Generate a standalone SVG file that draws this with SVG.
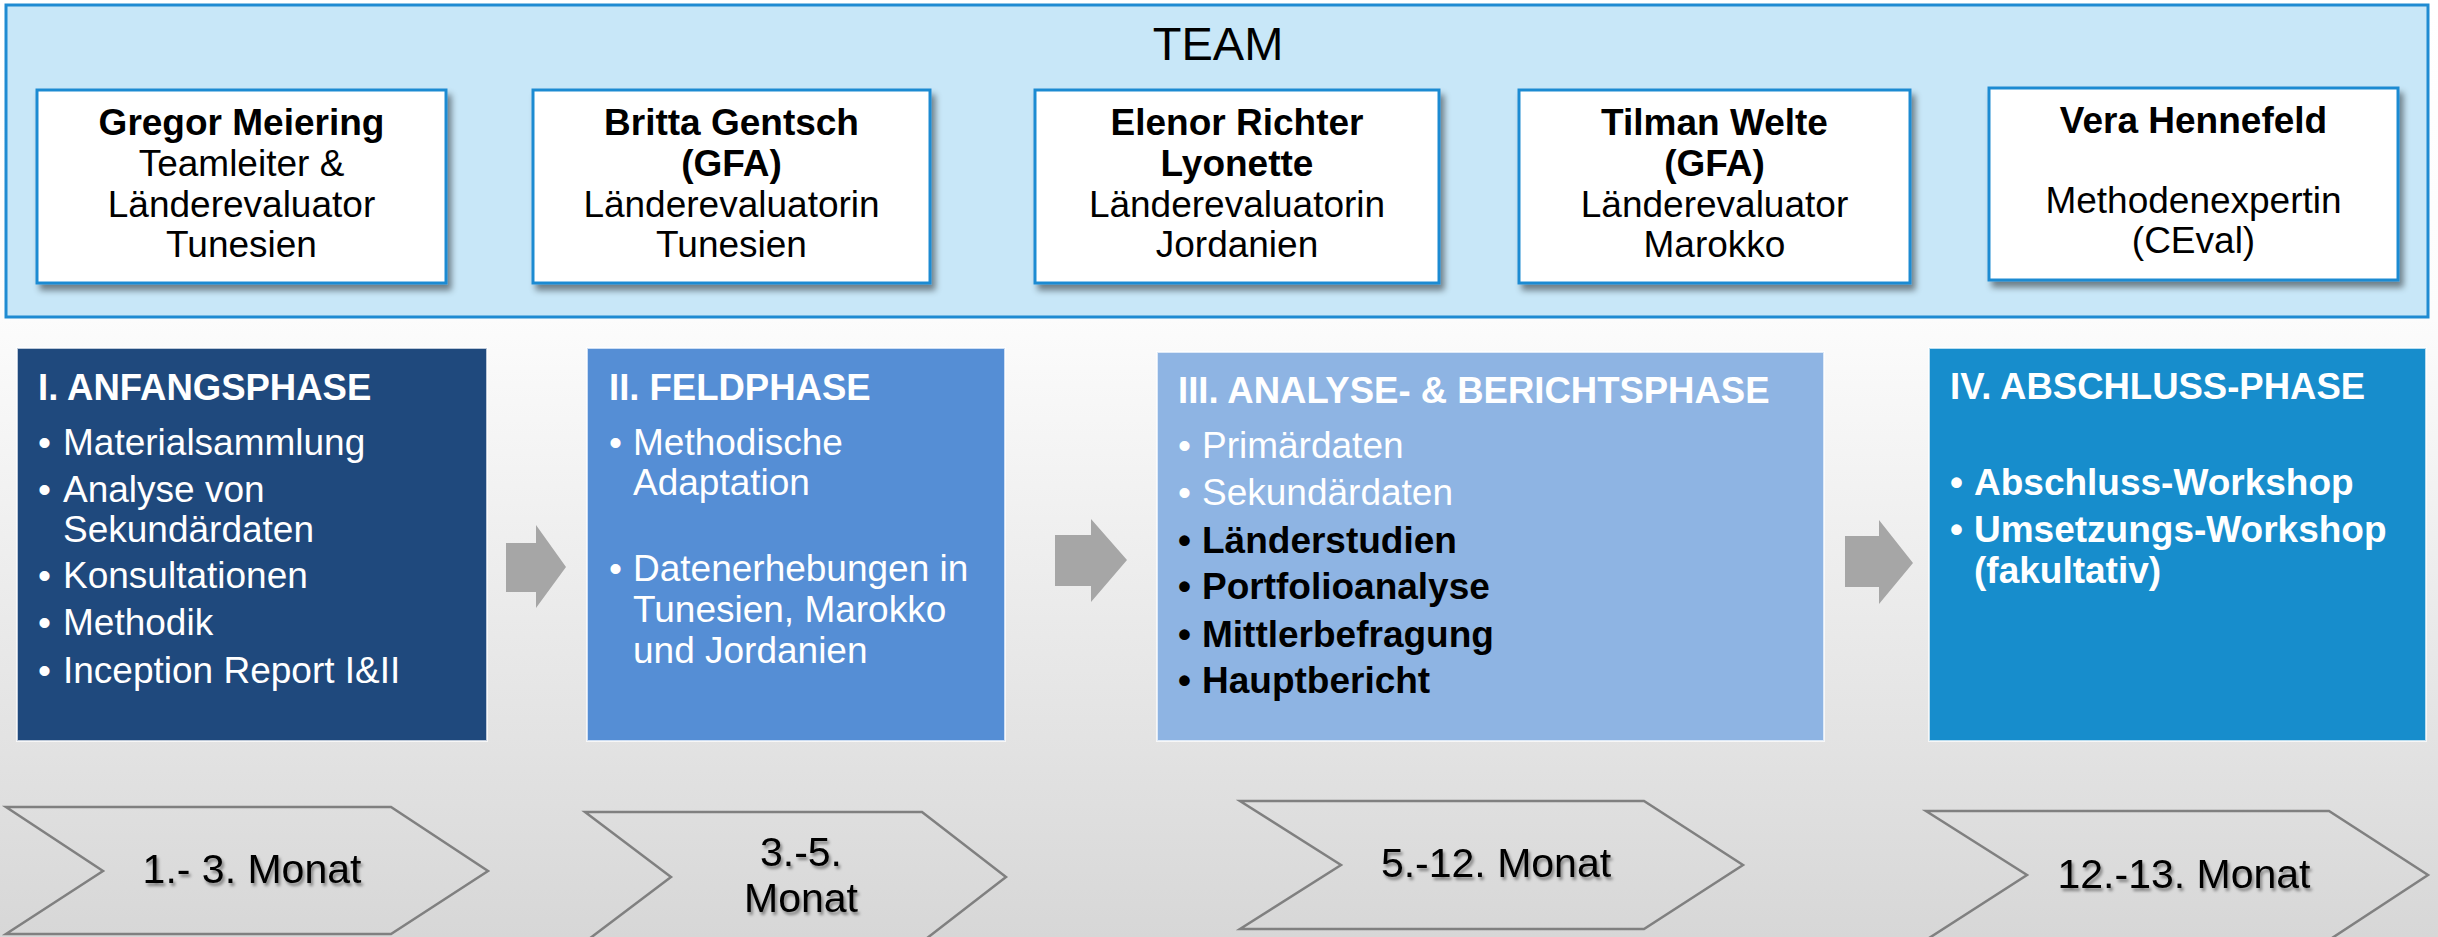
<svg xmlns="http://www.w3.org/2000/svg" width="2438" height="937" viewBox="0 0 2438 937">
<defs>
<linearGradient id="bg" x1="0" y1="0" x2="0" y2="937" gradientUnits="userSpaceOnUse">
<stop offset="0" stop-color="#ffffff"/>
<stop offset="0.34" stop-color="#fcfcfc"/>
<stop offset="1" stop-color="#d7d7d7"/>
</linearGradient>
<filter id="sh" x="-10%" y="-10%" width="125%" height="130%">
<feDropShadow dx="4" dy="6" stdDeviation="3" flood-color="#000" flood-opacity="0.45"/>
</filter>
<filter id="tsh" x="-10%" y="-20%" width="130%" height="150%">
<feDropShadow dx="2" dy="3" stdDeviation="1.5" flood-color="#000" flood-opacity="0.4"/>
</filter>
<marker id="none" markerWidth="1" markerHeight="1"/>
</defs>
<style>
text{font-family:"Liberation Sans",Arial,sans-serif;}
.person{fill:#ffffff;stroke:#1f8bd2;stroke-width:3;}
.pt{font-size:37px;fill:#000;text-anchor:middle;}
.b{font-weight:bold;}
.phase{stroke:#ffffff;stroke-width:2;stroke-opacity:0.7;}
.ttl{font-size:36.5px;font-weight:bold;fill:#ffffff;}
.it{font-size:37px;fill:#ffffff;}
.itd{font-size:37px;fill:#000000;font-weight:bold;}
.arr{fill:#a6a6a6;}
.chev{fill:url(#bg);stroke:#808080;stroke-width:2.5;}
.ct{font-size:41px;fill:#000;text-anchor:middle;}
</style>
<rect x="0" y="0" width="2438" height="937" fill="url(#bg)"/>

<g id="team">
<rect x="6" y="5" width="2422" height="312" fill="#c8e7f8" stroke="#1f8bd2" stroke-width="3"/>
<text x="1218" y="60" font-size="47" text-anchor="middle" fill="#000">TEAM</text>
</g>

<g id="p1">
<rect class="person" x="37" y="90" width="409" height="193" filter="url(#sh)"/>
<text class="pt b" x="241.5" y="135">Gregor Meiering</text>
<text class="pt" x="241.5" y="176">Teamleiter &amp;</text>
<text class="pt" x="241.5" y="217">Länderevaluator</text>
<text class="pt" x="241.5" y="257">Tunesien</text>
</g>
<g id="p2">
<rect class="person" x="533" y="90" width="397" height="193" filter="url(#sh)"/>
<text class="pt b" x="731.5" y="135">Britta Gentsch</text>
<text class="pt b" x="731.5" y="176">(GFA)</text>
<text class="pt" x="731.5" y="217">Länderevaluatorin</text>
<text class="pt" x="731.5" y="257">Tunesien</text>
</g>
<g id="p3">
<rect class="person" x="1035" y="90" width="404" height="193" filter="url(#sh)"/>
<text class="pt b" x="1237" y="135">Elenor Richter</text>
<text class="pt b" x="1237" y="176">Lyonette</text>
<text class="pt" x="1237" y="217">Länderevaluatorin</text>
<text class="pt" x="1237" y="257">Jordanien</text>
</g>
<g id="p4">
<rect class="person" x="1519" y="90" width="391" height="193" filter="url(#sh)"/>
<text class="pt b" x="1714.5" y="135">Tilman Welte</text>
<text class="pt b" x="1714.5" y="176">(GFA)</text>
<text class="pt" x="1714.5" y="217">Länderevaluator</text>
<text class="pt" x="1714.5" y="257">Marokko</text>
</g>
<g id="p5">
<rect class="person" x="1989" y="88" width="409" height="192" filter="url(#sh)"/>
<text class="pt b" x="2193.5" y="133">Vera Hennefeld</text>
<text class="pt" x="2193.5" y="213">Methodenexpertin</text>
<text class="pt" x="2193.5" y="253">(CEval)</text>
</g>

<g id="phase1">
<rect class="phase" x="17" y="348" width="470" height="393" fill="#1f497d"/>
<text class="ttl" x="38" y="400">I. ANFANGSPHASE</text>
<text class="it" x="38" y="455">•</text><text class="it" x="63" y="455">Materialsammlung</text>
<text class="it" x="38" y="502">•</text><text class="it" x="63" y="502">Analyse von</text>
<text class="it" x="63" y="542">Sekundärdaten</text>
<text class="it" x="38" y="588">•</text><text class="it" x="63" y="588">Konsultationen</text>
<text class="it" x="38" y="635">•</text><text class="it" x="63" y="635">Methodik</text>
<text class="it" x="38" y="683">•</text><text class="it" x="63" y="683">Inception Report I&amp;II</text>
</g>
<g id="phase2">
<rect class="phase" x="587" y="348" width="418" height="393" fill="#558ed5"/>
<text class="ttl" x="609" y="400">II. FELDPHASE</text>
<text class="it" x="609" y="455">•</text><text class="it" x="633" y="455">Methodische</text>
<text class="it" x="633" y="495">Adaptation</text>
<text class="it" x="609" y="581">•</text><text class="it" x="633" y="581">Datenerhebungen in</text>
<text class="it" x="633" y="622">Tunesien, Marokko</text>
<text class="it" x="633" y="663">und Jordanien</text>
</g>
<g id="phase3">
<rect class="phase" x="1157" y="352" width="667" height="389" fill="#8eb4e3"/>
<text class="ttl" x="1178" y="403">III. ANALYSE- &amp; BERICHTSPHASE</text>
<text class="it" x="1178" y="458">•</text><text class="it" x="1202" y="458">Primärdaten</text>
<text class="it" x="1178" y="505">•</text><text class="it" x="1202" y="505">Sekundärdaten</text>
<text class="itd" x="1178" y="553">•</text><text class="itd" x="1202" y="553">Länderstudien</text>
<text class="itd" x="1178" y="599">•</text><text class="itd" x="1202" y="599">Portfolioanalyse</text>
<text class="itd" x="1178" y="647">•</text><text class="itd" x="1202" y="647">Mittlerbefragung</text>
<text class="itd" x="1178" y="693">•</text><text class="itd" x="1202" y="693">Hauptbericht</text>
</g>
<g id="phase4">
<rect class="phase" x="1929" y="348" width="497" height="393" fill="#178dcc"/>
<text class="ttl" x="1950" y="399">IV. ABSCHLUSS-PHASE</text>
<text class="it b" x="1950" y="495">•</text><text class="it b" x="1974" y="495">Abschluss-Workshop</text>
<text class="it b" x="1950" y="542">•</text><text class="it b" x="1974" y="542">Umsetzungs-Workshop</text>
<text class="it b" x="1974" y="583">(fakultativ)</text>
</g>

<g id="connectors">
<polygon class="arr" points="506,543 536,543 536,525 566,567 536,608 536,592 506,592"/>
<polygon class="arr" points="1055,535 1091,535 1091,519 1127,560 1091,602 1091,586 1055,586"/>
<polygon class="arr" points="1845,536 1879,536 1879,520 1913,563 1879,604 1879,587 1845,587"/>
</g>

<g id="m1">
<polygon class="chev" points="6,807 391,807 488,871 391,934 6,934 103,871"/>
<text class="ct" x="252" y="883" filter="url(#tsh)">1.- 3. Monat</text>
</g>
<g id="m2">
<polygon class="chev" points="585,812 922,812 1006,877 922,942 585,942 671,877"/>
<text class="ct" x="801" y="866" filter="url(#tsh)">3.-5.</text>
<text class="ct" x="801" y="912" filter="url(#tsh)">Monat</text>
</g>
<g id="m3">
<polygon class="chev" points="1240,801 1644,801 1743,865 1644,929 1240,929 1341,865"/>
<text class="ct" x="1496" y="877" filter="url(#tsh)">5.-12. Monat</text>
</g>
<g id="m4">
<polygon class="chev" points="1926,811 2329,811 2428,875 2329,940 1926,940 2027,875"/>
<text class="ct" x="2184" y="888" filter="url(#tsh)">12.-13. Monat</text>
</g>
</svg>
